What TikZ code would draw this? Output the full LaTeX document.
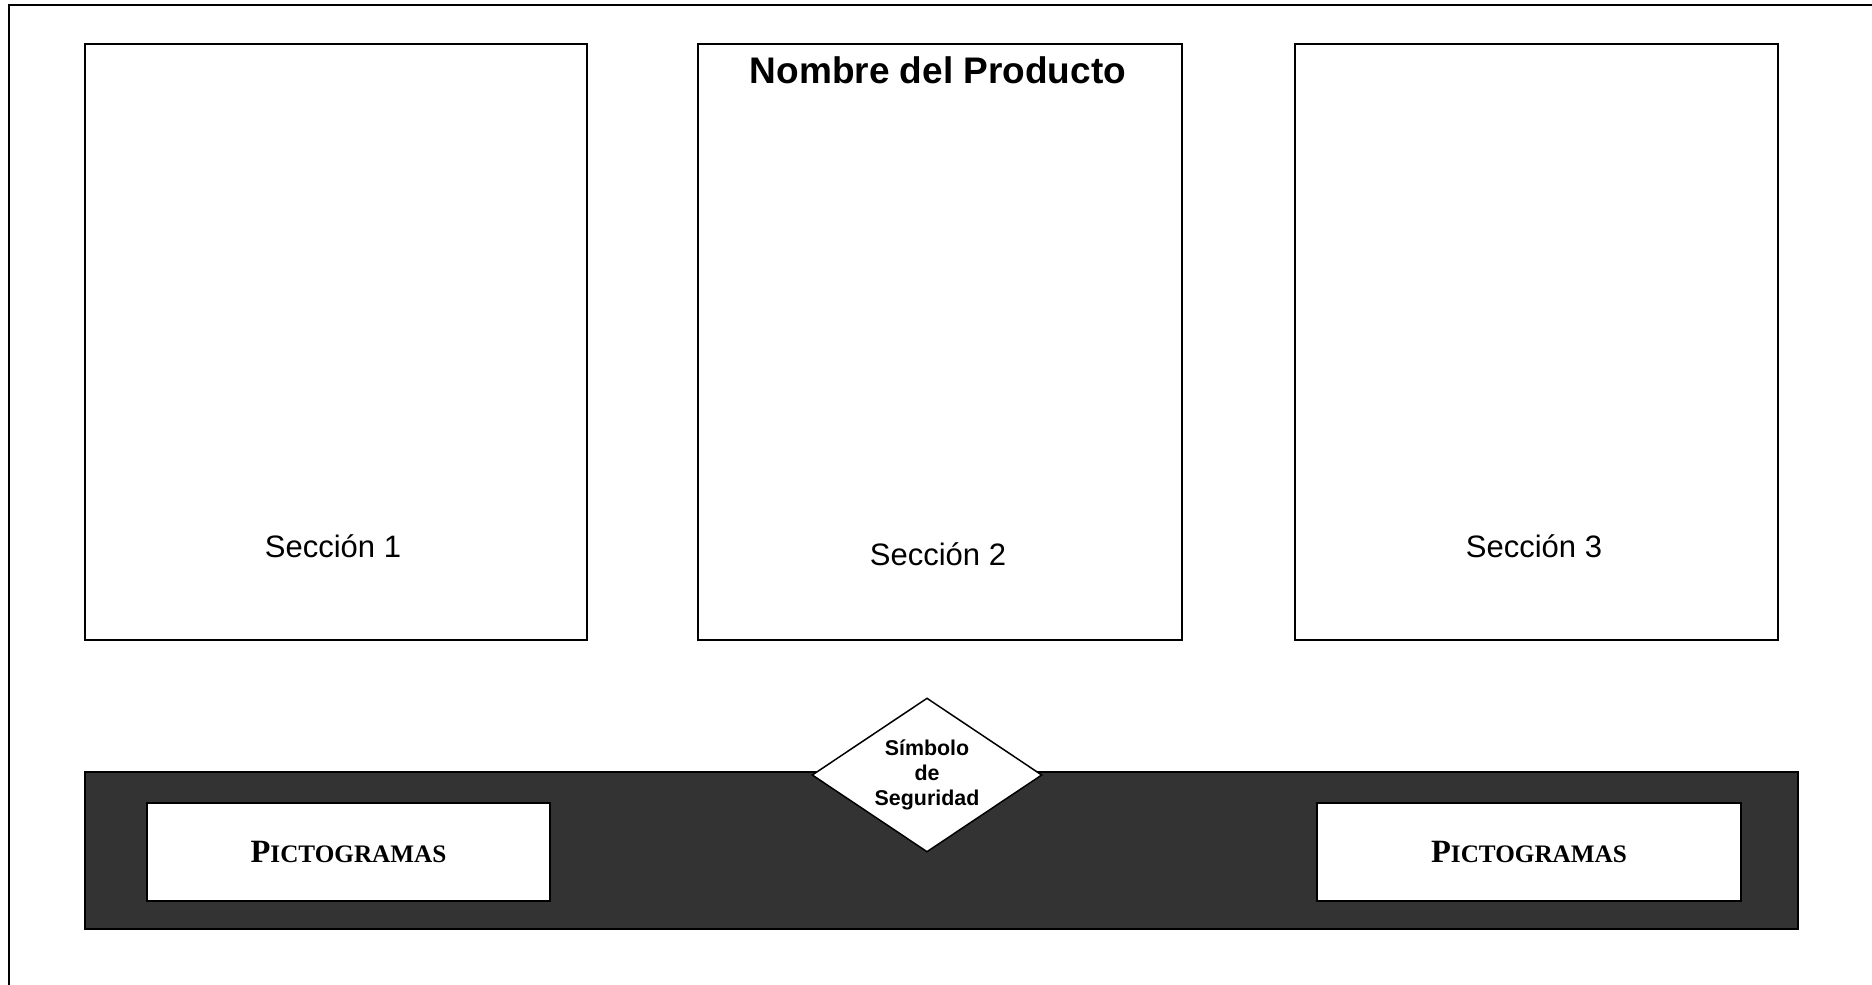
\documentclass[tikz,border=0pt]{standalone}
\usepackage{fontspec}
\setmainfont{Liberation Sans}
\newfontfamily\romana{Liberation Serif}
\usepackage{xcolor}
\usetikzlibrary{shapes.geometric}

\newcommand{\pictograma}{{\fontsize{32.5}{32.5}\selectfont P}{\fontsize{25.2}{25.2}\selectfont ICTOGRAMAS}}

\begin{document}
\begin{tikzpicture}[x=1pt,y=-1pt,
  seccion/.style={draw,line width=1.5pt,minimum height=596pt,inner sep=0pt},
  picto/.style={draw,fill=white,line width=1.8pt,minimum height=98pt,inner sep=0pt,font=\romana\bfseries},
  letrero/.style={font=\fontsize{31}{37}\selectfont}]
\definecolor{grisoscuro}{HTML}{333333}
\useasboundingbox (0,0) rectangle (1872,985);
\draw[line width=1.5pt] (9,985) -- (9,5) -- (1872,5);
  \foreach \nombre/\cx/\ancho in {sec1/336/502,sec2/940/484,sec3/1536.5/483}
  {  \node [seccion,minimum width=\ancho pt] (\nombre) at (\cx,342) {};}
  \foreach \n/\cx/\cy in {1/333/546,2/938/554,3/1534/546}
  {  \node [letrero] (texto\n) at (\cx,\cy) {Sección \n};}
\node [font=\bfseries\fontsize{37}{44}\selectfont] (producto) at (938,70) {Nombre del Producto};
\node [draw,fill=grisoscuro,line width=1.2pt,minimum width=1713pt,minimum height=157pt,inner sep=0pt] (franja) at (941.5,850.5) {};
\node [picto,minimum width=403pt] (picto1) at (348.5,852) {\pictograma};
\node [picto,minimum width=424pt] (picto2) at (1529,852) {\pictograma};
\node [diamond,draw,fill=white,line width=1.5pt,aspect=1.5,minimum width=230pt,minimum height=154pt,inner sep=0pt,align=center,font=\bfseries\fontsize{21.4}{25}\selectfont] (simbolo) at (927,775) {Símbolo\\de\\Seguridad};
\end{tikzpicture}
\end{document}
